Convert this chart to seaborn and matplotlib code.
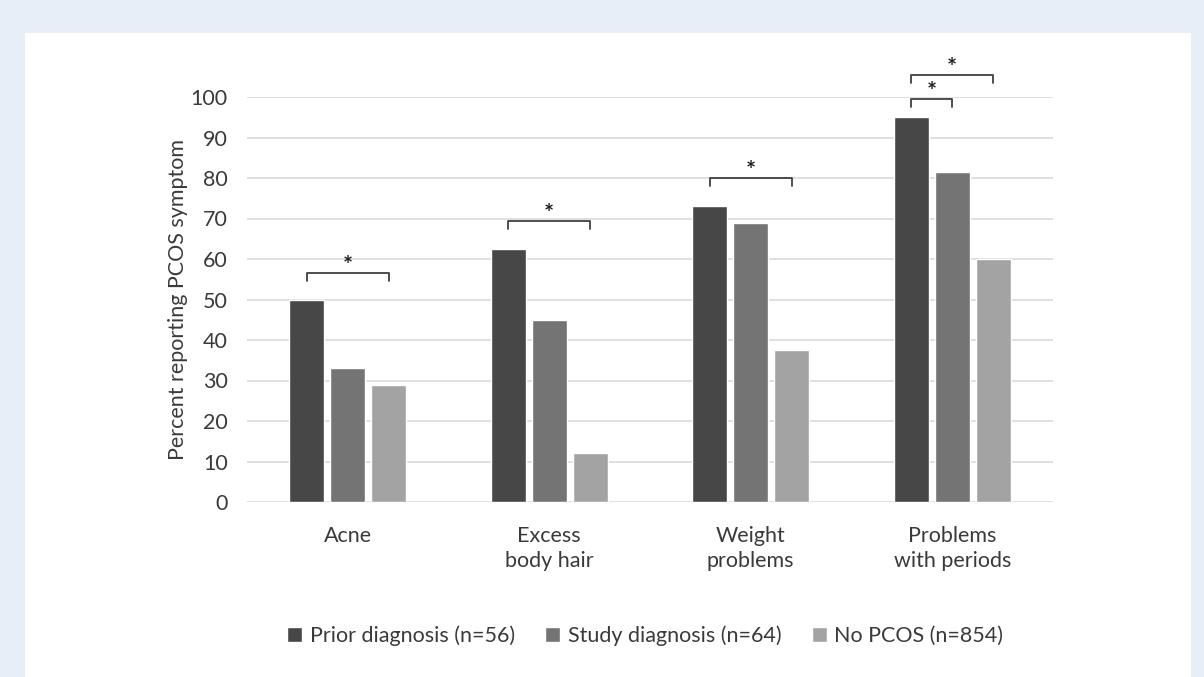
import numpy as np
import pandas as pd
import seaborn as sns
import matplotlib.pyplot as plt
from matplotlib.patches import Rectangle

categories = ["Acne", "Excess\nbody hair", "Weight\nproblems", "Problems\nwith periods"]
groups = ["Prior diagnosis (n=56)", "Study diagnosis (n=64)", "No PCOS (n=854)"]
prior = [50, 62.5, 73, 95]
study = [33, 45, 69, 81.5]
no_pcos = [29, 12, 37.5, 60]
# significance brackets: (category index, from group, to group, bracket height)
brackets = [(0, 0, 2, 56.5), (1, 0, 2, 69.5), (2, 0, 2, 80), (3, 0, 1, 99.5), (3, 0, 2, 105.5)]

df = pd.DataFrame({
    "category": np.repeat(categories, 3),
    "group": groups * 4,
    "value": [v for trio in zip(prior, study, no_pcos) for v in trio],
})

sns.set_theme(style="white")
plt.rcParams["font.family"] = ["Lato", "DejaVu Sans"]
text_col = "#3a3a3a"
fs = 15.5

fig = plt.figure(figsize=(12.04, 6.77), dpi=100, facecolor="#e8eef8")
panel = Rectangle((25 / 1204, 0), (1191 - 25) / 1204, 1 - 33 / 677,
                  transform=fig.transFigure, facecolor="white",
                  edgecolor="none", zorder=-10)
fig.add_artist(panel)
ax = fig.add_axes([247 / 1204, 1 - 502 / 677, (1053 - 247) / 1204, (502 - 97) / 677])
ax.set_facecolor("none")

palette = ["#474747", "#747474", "#a3a3a3"]
sns.barplot(data=df, x="category", y="value", hue="group", hue_order=groups,
            palette=palette, width=0.61, gap=0.15, saturation=1, ax=ax, zorder=3)

ax.set_ylim(0, 100)
ax.set_xlim(-0.5, 3.5)
ax.set_yticks(range(0, 101, 10))
ax.yaxis.grid(True, color="#d9d9d9", linewidth=1.2, zorder=0)
ax.set_axisbelow(True)
for s in ax.spines.values():
    s.set_visible(False)
ax.tick_params(axis="both", length=0, labelsize=fs, colors=text_col)
ax.tick_params(axis="y", pad=14)
ax.tick_params(axis="x", pad=17)
for lbl in ax.get_xticklabels():
    lbl.set_linespacing(1.35)
ax.set_xlabel("")
ax.set_ylabel("Percent reporting PCOS symptom", fontsize=fs, color=text_col, labelpad=2)

# bar centres per group, in category order
centres = []
for cont in ax.containers:
    centres.append([p.get_x() + p.get_width() / 2 for p in cont.patches])

for cat, g0, g1, h in brackets:
    x0 = centres[g0][cat]
    x1 = centres[g1][cat]
    ax.plot([x0, x0, x1, x1], [h - 2, h, h, h - 2], color="#404040", lw=1.3,
            clip_on=False, zorder=4)
    ax.text((x0 + x1) / 2, h - 0.3, "*", ha="center", va="baseline", fontsize=17,
            fontweight="bold", color="#202020", clip_on=False)

leg = ax.legend(loc="center", bbox_to_anchor=(0.536, 1 - 636 / 677),
                bbox_transform=fig.transFigure, ncol=3, frameon=False,
                fontsize=fs, handlelength=0.7, handleheight=0.7,
                handletextpad=0.35, columnspacing=1.4)
for t in leg.get_texts():
    t.set_color(text_col)

fig.savefig("out.png", dpi=100, facecolor=fig.get_facecolor())
